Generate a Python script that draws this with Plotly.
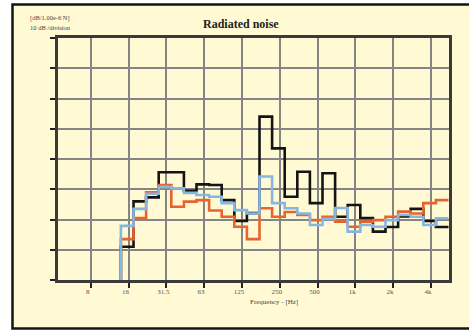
import numpy as np
import plotly.graph_objects as go

# 1/3-octave band centres (nominal labels)
bands = ["12.5", "16", "20", "25", "31.5", "40", "50", "63", "80", "100", "125",
         "160", "200", "250", "315", "400", "500", "630", "800", "1k", "1.25k",
         "1.6k", "2k", "2.5k", "3.15k", "4k", "5k"]

# Band levels in dB (10 dB per division); 12.5 Hz lies below the floor
level_black = [-10, 11.0, 26.0, 27.3, 35.6, 35.6, 29.5, 31.6, 31.4, 26.4, 19.5,
               22.1, 54.0, 43.5, 27.5, 35.8, 25.4, 35.3, 20.9, 24.8, 20.5,
               16.0, 17.5, 21.0, 23.5, 19.5, 17.5]
level_orange = [-10, 13.5, 20.5, 29.0, 31.4, 24.2, 25.9, 26.4, 23.0, 20.9, 17.6,
                13.5, 23.7, 20.9, 22.5, 21.5, 19.8, 20.9, 19.3, 17.6, 19.3,
                19.8, 20.9, 22.6, 22.0, 25.4, 26.4]
level_blue = [-10, 17.9, 23.5, 28.5, 30.8, 30.3, 28.8, 28.1, 27.5, 25.4, 23.1,
              22.0, 34.2, 25.4, 23.7, 22.0, 18.2, 20.2, 23.8, 16.0, 18.2,
              17.6, 19.8, 21.5, 20.9, 18.2, 20.4]

# Octave tick marks
tick_labels = ["8", "16", "31.5", "63", "125", "250", "500", "1k", "2k", "4k"]


def nominal_to_hz(s):
    return float(s[:-1]) * 1000 if s.endswith("k") else float(s)


# exact 1/3-octave centres based on 1 kHz, and band edges
idx = np.round(3 * np.log2(np.array([nominal_to_hz(b) for b in bands]) / 1000.0))
centres = 1000.0 * 2 ** (idx / 3)
edges = np.append(centres * 2 ** (-1 / 6), centres[-1] * 2 ** (1 / 6))
tick_vals = [8 * 2 ** k for k in range(len(tick_labels))]

W, H = 469, 330
L, R, T, B = 58, 449, 38, 280


def px_x(x):
    return (x - L) / (R - L)


def px_y(y):
    return (B - y) / (B - T)


fig = go.Figure()
for lv, col in [(level_black, "#141414"), (level_orange, "#E8632F"),
                (level_blue, "#86B6E2")]:
    fig.add_trace(go.Scatter(
        x=edges, y=list(lv) + [lv[-1]], mode="lines", line_shape="hv",
        line=dict(color=col, width=2.6), showlegend=False, hoverinfo="skip"))

serif = "Liberation Serif"


def label(text, x, y, size, anchor="center", color="#444"):
    return dict(text=text, xref="paper", yref="paper", x=px_x(x), y=px_y(y),
                xanchor=anchor, yanchor="middle", showarrow=False,
                font=dict(family=serif, size=size, color=color))


fig.update_layout(
    width=W, height=H,
    margin=dict(l=L, r=W - R, t=T, b=H - B),
    paper_bgcolor="white",
    plot_bgcolor="#EEF1F6",
    shapes=[dict(type="rect", xref="paper", yref="paper", layer="below",
                 x0=px_x(12.5), x1=px_x(490), y0=px_y(328.5), y1=px_y(4.5),
                 fillcolor="#FFFAD3", line=dict(color="#151515", width=2.5))],
    annotations=[
        label("<b>Radiated noise</b>", 241, 24, 12, color="#222"),
        label("[dB/1.00e-6 N]", 28, 18, 6.5, anchor="left"),
        label("10 dB /division", 28, 28, 6.5, anchor="left"),
        label("Frequency - [Hz]", 274, 302, 7),
    ],
)

fig.update_xaxes(
    type="log",
    range=[np.log10(8 * 2 ** ((L - 90.7) / 37.8)), np.log10(8 * 2 ** ((R - 90.7) / 37.8))],
    tickvals=tick_vals, ticktext=tick_labels,
    showgrid=True, gridcolor="#858585", gridwidth=2,
    showline=True, linecolor="#3a3a3a", linewidth=2.5, mirror=True,
    ticks="outside", ticklen=5, tickwidth=1.5, tickcolor="#222",
    tickfont=dict(family=serif, size=7, color="#555"),
    ticklabelstandoff=-2, ticklabelshift=-3,
    zeroline=False, fixedrange=True,
)
fig.update_yaxes(
    range=[0, 80], dtick=10, tick0=0,
    showticklabels=False,
    showgrid=True, gridcolor="#858585", gridwidth=2,
    showline=True, linecolor="#3a3a3a", linewidth=2.5, mirror=True,
    ticks="outside", ticklen=5, tickwidth=1.5, tickcolor="#222",
    zeroline=False, fixedrange=True,
)

fig.write_html("out.html", config={"displayModeBar": False})
